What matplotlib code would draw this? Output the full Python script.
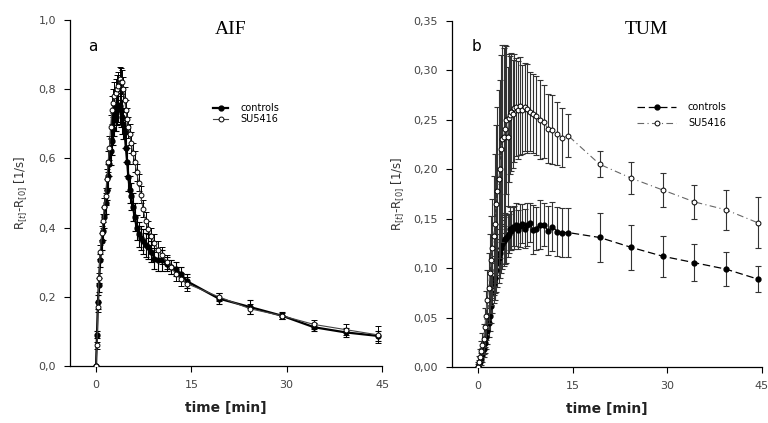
"""Recreate AIF / TUM relaxation-rate time curves (controls vs SU5416)."""

import matplotlib

matplotlib.use("Agg")
import matplotlib.pyplot as plt

# sampling times [min], shared by both panels
time_min = [0.0, 0.15, 0.3, 0.45, 0.65, 0.9, 1.1, 1.3, 1.5, 1.7, 1.9, 2.1, 2.3, 2.5, 2.7, 2.9,
            3.1, 3.3, 3.5, 3.7, 3.9, 4.1, 4.3, 4.5, 4.7, 4.9, 5.1, 5.3, 5.5, 5.8, 6.1, 6.4,
            6.7, 7.0, 7.4, 7.8, 8.2, 8.7, 9.2, 9.8, 10.4, 11.1, 11.8, 12.6, 13.4, 14.3,
            19.3, 24.3, 29.3, 34.3, 39.3, 44.3]

# panel a: AIF
aif_ctrl = [0.0, 0.09, 0.185, 0.235, 0.305, 0.36, 0.39, 0.43, 0.47, 0.51, 0.55, 0.585, 0.62, 0.65, 0.685, 0.71,
            0.73, 0.745, 0.755, 0.75, 0.74, 0.72, 0.70, 0.675, 0.63, 0.59, 0.545, 0.51, 0.49, 0.46, 0.43, 0.40,
            0.38, 0.37, 0.36, 0.35, 0.345, 0.33, 0.31, 0.305, 0.305, 0.295, 0.285, 0.28, 0.265, 0.245,
            0.195, 0.17, 0.145, 0.112, 0.097, 0.087]
aif_ctrl_err = [0.0, 0.01, 0.02, 0.02, 0.02, 0.025, 0.025, 0.03, 0.03, 0.03, 0.035, 0.035, 0.04, 0.04, 0.045, 0.045,
                0.05, 0.05, 0.05, 0.05, 0.05, 0.05, 0.045, 0.045, 0.04, 0.04, 0.04, 0.04, 0.04, 0.04, 0.04, 0.035,
                0.035, 0.035, 0.035, 0.035, 0.035, 0.03, 0.03, 0.03, 0.03, 0.02, 0.02, 0.02, 0.02, 0.02,
                0.015, 0.02, 0.01, 0.012, 0.012, 0.015]
aif_su = [0.0, 0.06, 0.17, 0.255, 0.33, 0.385, 0.42, 0.46, 0.49, 0.54, 0.59, 0.63, 0.69, 0.74, 0.76, 0.78,
          0.79, 0.80, 0.81, 0.83, 0.82, 0.82, 0.80, 0.77, 0.74, 0.715, 0.69, 0.67, 0.645, 0.615, 0.59, 0.56,
          0.53, 0.495, 0.455, 0.42, 0.395, 0.375, 0.355, 0.335, 0.32, 0.30, 0.285, 0.265, 0.25, 0.238,
          0.20, 0.165, 0.145, 0.12, 0.105, 0.09]
aif_su_err = [0.0, 0.01, 0.015, 0.015, 0.02, 0.02, 0.02, 0.025, 0.025, 0.03, 0.03, 0.035, 0.035, 0.04, 0.04, 0.04,
              0.04, 0.04, 0.04, 0.035, 0.04, 0.035, 0.035, 0.035, 0.03, 0.03, 0.03, 0.03, 0.03, 0.03, 0.03, 0.025,
              0.025, 0.025, 0.025, 0.025, 0.025, 0.025, 0.025, 0.025, 0.025, 0.02, 0.02, 0.02, 0.02, 0.02,
              0.012, 0.015, 0.008, 0.012, 0.015, 0.025]

# panel b: TUM
tum_ctrl = [0.0, 0.003, 0.005, 0.008, 0.012, 0.018, 0.024, 0.03, 0.036, 0.045, 0.052, 0.062, 0.075, 0.085, 0.09, 0.098,
            0.105, 0.11, 0.115, 0.12, 0.124, 0.127, 0.129, 0.13, 0.133, 0.135, 0.14, 0.138, 0.142, 0.141, 0.144, 0.139,
            0.143, 0.145, 0.14, 0.144, 0.146, 0.139, 0.14, 0.144, 0.144, 0.138, 0.142, 0.137, 0.136, 0.136,
            0.131, 0.121, 0.112, 0.1055, 0.099, 0.089]
tum_ctrl_err = [0.003, 0.004, 0.005, 0.006, 0.007, 0.008, 0.01, 0.012, 0.013, 0.015, 0.016, 0.018, 0.02, 0.02, 0.022, 0.022,
                0.024, 0.025, 0.025, 0.025, 0.025, 0.025, 0.025, 0.025, 0.022, 0.02, 0.022, 0.02, 0.02, 0.022, 0.022, 0.02,
                0.022, 0.02, 0.02, 0.022, 0.02, 0.025, 0.022, 0.025, 0.022, 0.025, 0.025, 0.025, 0.025, 0.025,
                0.025, 0.023, 0.021, 0.019, 0.017, 0.013]
tum_su = [0.0, 0.005, 0.01, 0.016, 0.022, 0.028, 0.04, 0.052, 0.068, 0.08, 0.095, 0.108, 0.12, 0.133, 0.145, 0.165,
          0.178, 0.19, 0.20, 0.221, 0.231, 0.233, 0.241, 0.25, 0.233, 0.252, 0.255, 0.258, 0.256, 0.262, 0.263, 0.26,
          0.264, 0.26, 0.263, 0.261, 0.258, 0.256, 0.254, 0.25, 0.248, 0.241, 0.24, 0.236, 0.232, 0.234,
          0.205, 0.191, 0.179, 0.167, 0.159, 0.146]
tum_su_err = [0.005, 0.006, 0.008, 0.01, 0.012, 0.015, 0.02, 0.025, 0.03, 0.035, 0.04, 0.045, 0.05, 0.06, 0.07, 0.08,
              0.085, 0.09, 0.09, 0.095, 0.095, 0.09, 0.085, 0.075, 0.07, 0.065, 0.06, 0.06, 0.055, 0.055, 0.05, 0.05,
              0.05, 0.045, 0.045, 0.045, 0.04, 0.04, 0.04, 0.04, 0.037, 0.035, 0.035, 0.032, 0.03, 0.022,
              0.013, 0.016, 0.017, 0.017, 0.02, 0.026]

x_ticks = [0, 15, 30, 45]
x_tick_labels = ["0", "15", "30", "45"]
aif_y_ticks = [0.0, 0.2, 0.4, 0.6, 0.8, 1.0]
aif_y_labels = ["0,0", "0,2", "0,4", "0,6", "0,8", "1,0"]
tum_y_ticks = [0.0, 0.05, 0.10, 0.15, 0.20, 0.25, 0.30, 0.35]
tum_y_labels = ["0,00", "0,05", "0,10", "0,15", "0,20", "0,25", "0,30", "0,35"]

fig = plt.figure(figsize=(7.68, 4.23), dpi=100)
ax1 = fig.add_axes([0.0911, 0.1348, 0.4063, 0.818])
ax2 = fig.add_axes([0.5885, 0.1324, 0.4036, 0.818])

# panel a
ax1.errorbar(time_min, aif_ctrl, yerr=aif_ctrl_err, fmt="none", ecolor="black", elinewidth=0.8,
             capsize=2, capthick=0.8, zorder=2)
ax1.plot(time_min, aif_ctrl, "-o", color="black", mfc="black", mec="black", ms=3.5, lw=1.6,
         label="controls", zorder=2)
ax1.errorbar(time_min, aif_su, yerr=aif_su_err, fmt="none", ecolor="black", elinewidth=0.7,
             capsize=2, capthick=0.7, zorder=3)
ax1.plot(time_min, aif_su, "-o", color="#444444", mfc="white", mec="black", ms=3.5, lw=0.8, mew=0.7,
         label="SU5416", zorder=3)
ax1.set_xlim(-4.1, 45)
ax1.set_ylim(0, 1.0)
ax1.set_yticks(aif_y_ticks)
ax1.set_yticklabels(aif_y_labels)
ax1.set_ylabel(r"R$_{[t]}$-R$_{[0]}$ [1/s]", fontsize=8.5, color="#333333", labelpad=6)
ax1.legend(loc="upper left", bbox_to_anchor=(0.43, 0.785), frameon=False, fontsize=7, handlelength=1.6,
           handletextpad=1.2, labelspacing=0.1)

# panel b
ax2.errorbar(time_min, tum_ctrl, yerr=tum_ctrl_err, fmt="none", ecolor="#333333", elinewidth=0.8,
             capsize=2, capthick=0.8, zorder=2)
ax2.plot(time_min, tum_ctrl, "o", linestyle=(0, (6, 3)), color="black", mfc="black", mec="black",
         ms=3.5, lw=0.9, label="controls", zorder=2)
ax2.errorbar(time_min, tum_su, yerr=tum_su_err, fmt="none", ecolor="#333333", elinewidth=0.8,
             capsize=2, capthick=0.8, zorder=3)
ax2.plot(time_min, tum_su, "o", linestyle=(0, (6, 3, 1, 3)), color="#666666", mfc="white", mec="black",
         ms=3.5, mew=0.7, lw=0.8, label="SU5416", zorder=3)
ax2.set_xlim(-4.1, 45)
ax2.set_ylim(0, 0.35)
ax2.set_yticks(tum_y_ticks)
ax2.set_yticklabels(tum_y_labels)
ax2.set_ylabel(r"R$_{[t]}$-R$_{[0]}$ [1/s]", fontsize=8.5, color="#333333", labelpad=5)
ax2.legend(loc="upper left", bbox_to_anchor=(0.57, 0.79), frameon=False, fontsize=7, handlelength=4.0,
           handletextpad=1.2, labelspacing=0.6)

for ax in (ax1, ax2):
    ax.spines["top"].set_visible(False)
    ax.spines["right"].set_visible(False)
    ax.spines["left"].set_linewidth(0.9)
    ax.spines["bottom"].set_linewidth(0.9)
    ax.set_xticks(x_ticks)
    ax.set_xticklabels(x_tick_labels)
    ax.tick_params(direction="out", length=4, width=0.8, labelsize=8, labelcolor="#444444", pad=6)
    ax.set_xlabel("time [min]", fontsize=10, fontweight="bold", color="#222222", labelpad=8)

fig.text(0.30, 0.93, "AIF", family="Liberation Serif", fontsize=14, ha="center", va="center")
fig.text(0.842, 0.93, "TUM", family="Liberation Serif", fontsize=14, ha="center", va="center")
fig.text(0.121, 0.889, "a", fontsize=11, ha="center", va="center")
fig.text(0.621, 0.889, "b", fontsize=11, ha="center", va="center")

fig.savefig("out.png", dpi=100)
